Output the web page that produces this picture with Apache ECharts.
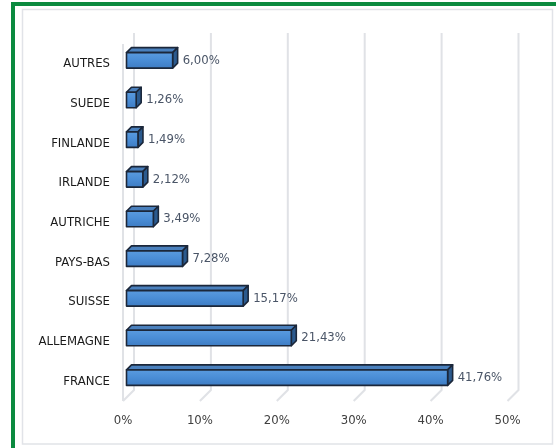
<!DOCTYPE html>
<html>
<head>
<meta charset="utf-8">
<script src="https://cdn.jsdelivr.net/npm/echarts@6/dist/echarts.min.js"></script>
<style>
  html, body { margin: 0; padding: 0; background: #fff; }
  #chart { width: 556px; height: 448px; }
</style>
</head>
<body>
<div id="chart"></div>
<script>
// pays, de haut en bas
var categories = ['AUTRES', 'SUEDE', 'FINLANDE', 'IRLANDE', 'AUTRICHE', 'PAYS-BAS', 'SUISSE', 'ALLEMAGNE', 'FRANCE'];
var values = [6.00, 1.26, 1.49, 2.12, 3.49, 7.28, 15.17, 21.43, 41.76];
var ticks = [0, 10, 20, 30, 40, 50];

var FONT = '"DejaVu Sans Condensed", sans-serif';
var WALL = 11;   // profondeur du plancher
var OFF = 3.5;   // recul de la face avant des barres
var DEPTH = 5;   // profondeur des barres
var HALF = 7.75; // demi-hauteur des barres

var chart = echarts.init(document.getElementById('chart'));

function fmt(v) {
    return v.toFixed(2).replace('.', ',') + '%';
}

var option = {
    animation: false,
    backgroundColor: '#ffffff',
    graphic: [
        { type: 'rect', shape: { x: 22.5, y: 9.5, width: 530, height: 434.5 }, style: { fill: '#fff', stroke: '#e1e3e8', lineWidth: 1.5 }, z: -10 },
        { type: 'rect', shape: { x: 11, y: 2, width: 545, height: 4 }, style: { fill: '#0b8a3f' }, z: 10 },
        { type: 'rect', shape: { x: 11, y: 2, width: 4, height: 446 }, style: { fill: '#0b8a3f' }, z: 10 }
    ],
    grid: { left: 123, top: 44, width: 384.5, height: 357 },
    xAxis: {
        type: 'value', min: 0, max: 50, interval: 10,
        axisLine: { show: false }, axisTick: { show: false }, splitLine: { show: false },
        axisLabel: { formatter: '{value}%', margin: 13, color: '#404040', fontSize: 13, fontFamily: FONT }
    },
    yAxis: {
        type: 'category', data: categories, inverse: true,
        axisLine: { show: false }, axisTick: { show: false },
        axisLabel: { margin: 13, color: '#1a1a1a', fontSize: 13, fontFamily: FONT }
    },
    series: [
        {
            type: 'custom', name: 'murs', z: 1, silent: true,
            data: ticks.map(function (t) { return [t, 0]; }),
            renderItem: function (params, api) {
                var cs = params.coordSys;
                var x = api.coord([api.value(0), 0])[0];
                var yb = cs.y + cs.height;
                var style = { stroke: '#e0e2e6', lineWidth: 2, fill: null };
                var kids = [{
                    type: 'polyline',
                    shape: { points: [[x, yb], [x + WALL, yb - WALL], [x + WALL, cs.y - WALL]] },
                    style: style
                }];
                if (api.value(0) === 0) {
                    kids.push({ type: 'line', shape: { x1: x, y1: cs.y, x2: x, y2: yb }, style: style });
                }
                return { type: 'group', children: kids };
            }
        },
        {
            type: 'custom', name: 'parts', z: 5,
            data: values.map(function (v, i) { return [v, i]; }),
            renderItem: function (params, api) {
                var p = api.coord([api.value(0), api.value(1)]);
                var p0 = api.coord([0, api.value(1)]);
                var x0 = p0[0] + OFF, x1 = p[0] + OFF;
                var yc = p[1] - OFF;
                var yt = yc - HALF, yb = yc + HALF;
                var line = { stroke: '#1b273a', lineWidth: 1.6, lineJoin: 'round' };
                return {
                    type: 'group',
                    children: [
                        {
                            type: 'polygon',
                            shape: { points: [[x0, yt], [x1, yt], [x1 + DEPTH, yt - DEPTH], [x0 + DEPTH, yt - DEPTH]] },
                            style: Object.assign({ fill: '#4a80bd' }, line)
                        },
                        {
                            type: 'polygon',
                            shape: { points: [[x1, yt], [x1 + DEPTH, yt - DEPTH], [x1 + DEPTH, yb - DEPTH], [x1, yb]] },
                            style: Object.assign({ fill: '#2b5a8e' }, line)
                        },
                        {
                            type: 'rect',
                            shape: { x: x0, y: yt, width: x1 - x0, height: yb - yt },
                            style: Object.assign({
                                fill: new echarts.graphic.LinearGradient(0, 0, 0, 1, [
                                    { offset: 0, color: '#5b9ce0' },
                                    { offset: 0.5, color: '#4a8dd6' },
                                    { offset: 1, color: '#3d7bc2' }
                                ])
                            }, line)
                        },
                        {
                            type: 'text',
                            style: {
                                text: fmt(api.value(0)),
                                x: x1 + DEPTH + 5, y: yc,
                                verticalAlign: 'middle', align: 'left',
                                fill: '#4a5567', fontSize: 13, fontFamily: FONT
                            }
                        }
                    ]
                };
            }
        }
    ]
};
chart.setOption(option);
</script>
</body>
</html>
